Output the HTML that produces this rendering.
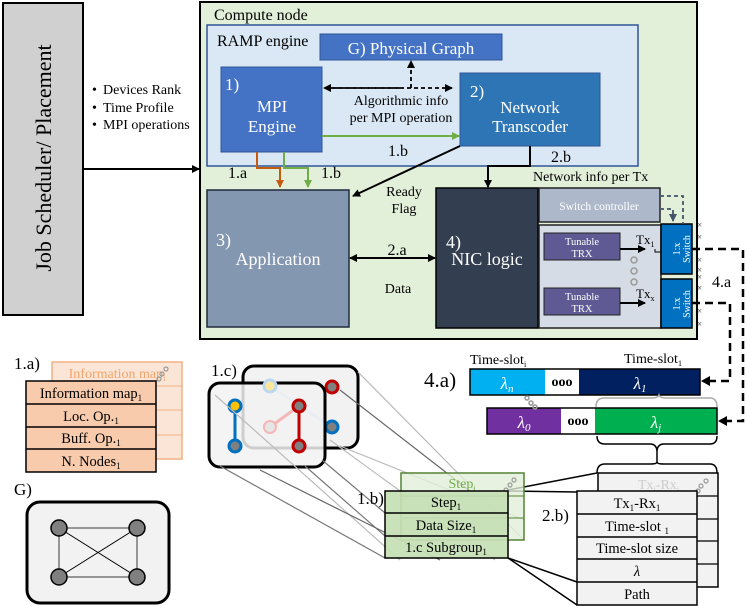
<!DOCTYPE html>
<html><head><meta charset="utf-8"><style>
html,body{margin:0;padding:0;background:#fff}
svg{display:block;font-family:"Liberation Serif",serif}
</style></head><body>
<svg width="747" height="606" viewBox="0 0 747 606" xmlns="http://www.w3.org/2000/svg">
<defs>
<marker id="ak" markerWidth="8" markerHeight="8" refX="7" refY="4" orient="auto" markerUnits="userSpaceOnUse"><path d="M0,0 L8,4 L0,8 z" fill="#000"/></marker>
<marker id="ao" markerWidth="8" markerHeight="8" refX="7" refY="4" orient="auto" markerUnits="userSpaceOnUse"><path d="M0,0 L8,4 L0,8 z" fill="#c55a11"/></marker>
<marker id="ag" markerWidth="8" markerHeight="8" refX="7" refY="4" orient="auto" markerUnits="userSpaceOnUse"><path d="M0,0 L8,4 L0,8 z" fill="#70ad47"/></marker>
<marker id="ad" markerWidth="8" markerHeight="8" refX="7" refY="4" orient="auto" markerUnits="userSpaceOnUse"><path d="M0,0 L8,4 L0,8 z" fill="#44546a"/></marker>
</defs>

<!-- Job scheduler -->
<rect x="3" y="3" width="80" height="312" fill="#d0d0d0" stroke="#000" stroke-width="2"/>
<text transform="translate(51,158) rotate(-90)" text-anchor="middle" font-size="22">Job Scheduler/ Placement</text>
<g font-size="14"><text x="92" y="94">•</text><text x="103" y="94">Devices Rank</text>
<text x="92" y="112">•</text><text x="103" y="112">Time Profile</text>
<text x="92" y="129">•</text><text x="103" y="129">MPI operations</text></g>
<line x1="83" y1="169" x2="199" y2="169" stroke="#000" stroke-width="2" marker-end="url(#ak)"/>

<!-- Compute node -->
<rect x="200" y="2" width="497" height="337" fill="#e2efd9" stroke="#000" stroke-width="2"/>
<text x="214" y="20" font-size="16">Compute node</text>
<rect x="207" y="25" width="431" height="141" fill="#dae8f5" stroke="#2f5597" stroke-width="1.5"/>
<text x="217" y="46" font-size="16">RAMP engine</text>
<rect x="320" y="34" width="182" height="26" fill="#4472c4" stroke="#2f5597"/>
<text x="411" y="54" font-size="17" fill="#fff" text-anchor="middle">G) Physical Graph</text>
<rect x="221" y="67" width="101" height="85" fill="#4472c4" stroke="#2f5597"/>
<text x="225" y="90" font-size="17" fill="#fff">1)</text>
<text x="272" y="112" font-size="17" fill="#fff" text-anchor="middle">MPI</text>
<text x="272" y="132" font-size="17" fill="#fff" text-anchor="middle">Engine</text>
<rect x="460" y="73" width="140" height="73" fill="#2e75b6" stroke="#2f5597"/>
<text x="470" y="97" font-size="17" fill="#fff">2)</text>
<text x="530" y="113" font-size="17" fill="#fff" text-anchor="middle">Network</text>
<text x="530" y="132" font-size="17" fill="#fff" text-anchor="middle">Transcoder</text>
<line x1="330" y1="88" x2="452" y2="88" stroke="#000" stroke-width="1.8" stroke-dasharray="4,3" marker-end="url(#ak)"/>
<line x1="400" y1="88" x2="324" y2="88" stroke="#000" stroke-width="1.8" stroke-dasharray="4,3" marker-end="url(#ak)"/>
<line x1="411" y1="88" x2="411" y2="61" stroke="#000" stroke-width="1.8" stroke-dasharray="4,3" marker-end="url(#ak)"/>
<text x="401" y="105" font-size="14" text-anchor="middle">Algorithmic info</text>
<text x="401" y="122" font-size="14" text-anchor="middle">per MPI operation</text>
<line x1="322" y1="136" x2="459" y2="136" stroke="#70ad47" stroke-width="2" marker-end="url(#ag)"/>
<text x="398" y="156" font-size="16" text-anchor="middle">1.b</text>
<polyline points="257,152 257,168 280,168 280,187" fill="none" stroke="#c55a11" stroke-width="2" marker-end="url(#ao)"/>
<polyline points="284,152 284,168 308,168 308,187" fill="none" stroke="#70ad47" stroke-width="2" marker-end="url(#ag)"/>
<text x="228" y="178" font-size="16">1.a</text>
<text x="321" y="178" font-size="16">1.b</text>

<rect x="207" y="190" width="142" height="137" fill="#8497b0" stroke="#1f2a3a" stroke-width="1.5"/>
<text x="216" y="246" font-size="18" fill="#fff">3)</text>
<text x="278" y="265" font-size="18" fill="#fff" text-anchor="middle">Application</text>
<line x1="460" y1="146" x2="353" y2="196" stroke="#000" stroke-width="2" marker-end="url(#ak)"/>
<text x="404" y="196" font-size="14" text-anchor="middle">Ready</text>
<text x="404" y="213" font-size="14" text-anchor="middle">Flag</text>
<polyline points="530,146 530,166 488,166 488,187" fill="none" stroke="#000" stroke-width="2" marker-end="url(#ak)"/>
<text x="551" y="162" font-size="16">2.b</text>
<text x="533" y="181" font-size="14">Network info per Tx</text>

<rect x="436" y="188" width="102" height="140" fill="#333f50" stroke="#000" stroke-width="1.5"/>
<text x="446" y="248" font-size="18" fill="#fff">4)</text>
<text x="487" y="265" font-size="18" fill="#fff" text-anchor="middle">NIC logic</text>
<line x1="400" y1="258" x2="435" y2="258" stroke="#000" stroke-width="2" marker-end="url(#ak)"/>
<line x1="400" y1="258" x2="350" y2="258" stroke="#000" stroke-width="2" marker-end="url(#ak)"/>
<text x="397" y="255" font-size="16" text-anchor="middle">2.a</text>
<text x="398" y="293" font-size="14" text-anchor="middle">Data</text>

<rect x="539" y="188" width="121" height="34" fill="#adb9ca" stroke="#222" stroke-width="1.5"/>
<text x="599" y="210" font-size="11.5" fill="#fff" text-anchor="middle">Switch controller</text>
<rect x="539" y="225" width="122" height="103" fill="#d6dce5" stroke="#222" stroke-width="1.5"/>
<rect x="544" y="233" width="76" height="27" fill="#5f5a93" stroke="#222"/>
<text x="582" y="245" font-size="10.5" fill="#fff" text-anchor="middle">Tunable</text>
<text x="582" y="257" font-size="10.5" fill="#fff" text-anchor="middle">TRX</text>
<rect x="544" y="288" width="76" height="27" fill="#5f5a93" stroke="#222"/>
<text x="582" y="300" font-size="10.5" fill="#fff" text-anchor="middle">Tunable</text>
<text x="582" y="312" font-size="10.5" fill="#fff" text-anchor="middle">TRX</text>
<line x1="620" y1="249" x2="645" y2="249" stroke="#000" stroke-width="2" marker-end="url(#ak)"/>
<line x1="620" y1="303" x2="645" y2="303" stroke="#000" stroke-width="2" marker-end="url(#ak)"/>
<polyline points="655,249 655,252 661,252" fill="none" stroke="#000"/>
<text x="636" y="244" font-size="13">Tx<tspan font-size="8" dy="3">1</tspan></text>
<text x="636" y="298" font-size="13">Tx<tspan font-size="8" dy="3">x</tspan></text>
<g fill="none" stroke="#999" stroke-width="1.5"><circle cx="634" cy="260" r="3"/><circle cx="634" cy="271" r="3"/><circle cx="634" cy="282" r="3"/></g>
<rect x="661" y="224" width="31" height="50" fill="#0070c0" stroke="#000" stroke-width="1.5"/>
<rect x="661" y="279" width="31" height="49" fill="#0070c0" stroke="#000" stroke-width="1.5"/>
<text transform="translate(680,249) rotate(-90)" font-size="10" fill="#fff" text-anchor="middle">1:x</text>
<text transform="translate(690,249) rotate(-90)" font-size="10" fill="#fff" text-anchor="middle">Switch</text>
<text transform="translate(680,304) rotate(-90)" font-size="10" fill="#fff" text-anchor="middle">1:x</text>
<text transform="translate(690,304) rotate(-90)" font-size="10" fill="#fff" text-anchor="middle">Switch</text>
<polyline points="660,196 683,196 683,224" fill="none" stroke="#44546a" stroke-width="1.8" stroke-dasharray="4,3"/>
<polyline points="660,209 673,209 673,221" fill="none" stroke="#44546a" stroke-width="1.8" stroke-dasharray="4,3" marker-end="url(#ad)"/>
<g font-size="9" fill="#333"><text x="697" y="228">×</text><text x="697" y="240">×</text><text x="697" y="263">×</text><text x="697" y="273">×</text><text x="697" y="280">×</text><text x="697" y="291">×</text><text x="697" y="314">×</text><text x="697" y="327">×</text></g>
<text x="712" y="287" font-size="16">4.a</text>

<!-- 4.a dashed -->
<polyline points="692,249 743,249 743,421 726,421" fill="none" stroke="#000" stroke-width="2.5" stroke-dasharray="8,5"/>
<path d="M718,421 L727,416 L727,426 z" fill="#000"/>
<polyline points="692,303 730,303 730,381 709,381" fill="none" stroke="#000" stroke-width="2.5" stroke-dasharray="8,5"/>
<path d="M701,381 L710,376 L710,386 z" fill="#000"/>

<!-- 4.a bars -->
<text x="424" y="387" font-size="21">4.a)</text>
<text x="470" y="364" font-size="14">Time-slot<tspan font-size="8" dy="3">i</tspan></text>
<text x="624" y="363" font-size="14">Time-slot<tspan font-size="8" dy="3">1</tspan></text>
<rect x="470" y="369" width="75" height="26" fill="#00b0f0"/>
<rect x="545" y="369" width="34" height="26" fill="#fff"/>
<rect x="579" y="369" width="121" height="26" fill="#002060"/>
<rect x="470" y="369" width="230" height="26" fill="none" stroke="#000" stroke-width="1.5"/>
<text x="507" y="389" font-size="17" font-style="italic" fill="#fff" text-anchor="middle">λ<tspan font-size="11" dy="3">n</tspan></text>
<text x="562" y="386" font-size="14" font-weight="bold" text-anchor="middle">ooo</text>
<text x="640" y="389" font-size="17" font-style="italic" fill="#fff" text-anchor="middle">λ<tspan font-size="11" dy="3">1</tspan></text>
<rect x="487" y="408" width="74" height="26" fill="#7030a0"/>
<rect x="561" y="408" width="34" height="26" fill="#fff"/>
<rect x="595" y="408" width="122" height="26" fill="#00b050"/>
<rect x="487" y="408" width="230" height="26" fill="none" stroke="#000" stroke-width="1.5"/>
<text x="524" y="428" font-size="17" font-style="italic" fill="#fff" text-anchor="middle">λ<tspan font-size="11" dy="3">0</tspan></text>
<text x="578" y="425" font-size="14" font-weight="bold" text-anchor="middle">ooo</text>
<text x="656" y="428" font-size="17" font-style="italic" fill="#fff" text-anchor="middle">λ<tspan font-size="11" dy="3">j</tspan></text>
<g fill="none" stroke="#999" stroke-width="1.5"><circle cx="527" cy="398" r="2"/><circle cx="531" cy="403" r="2"/><circle cx="535" cy="407" r="2"/></g>
<path d="M596,407 Q596,398 604,398 L652,398 Q658,398 659,395 Q660,398 666,398 L710,398 Q717,398 717,407" fill="none" stroke="#aaa" stroke-width="1.5"/>
<path d="M597,436 Q597,444 605,444 L650,444 Q657,444 657,452 L657,462 M657,452 Q657,444 664,444 L710,444 Q717,444 717,436" fill="none" stroke="#000" stroke-width="1.5"/>
<path d="M597,473 Q597,464 605,464 L650,464 Q657,464 657,462 Q657,464 664,464 L710,464 Q717,464 717,473" fill="none" stroke="#000" stroke-width="1.5"/>

<!-- 2.b tables -->
<rect x="598" y="473" width="120" height="114" fill="#f2f2f2" stroke="#000" stroke-width="1.5"/>
<g stroke="#000" stroke-width="1.2"><line x1="598" y1="496" x2="718" y2="496"/><line x1="598" y1="519" x2="718" y2="519"/><line x1="598" y1="541" x2="718" y2="541"/><line x1="598" y1="564" x2="718" y2="564"/></g>
<text x="638" y="489" font-size="14" fill="#ccc">Tx<tspan font-size="8" dy="3">i</tspan><tspan dy="-3">-Rx</tspan><tspan font-size="8" dy="3">i</tspan></text>
<g fill="none" stroke="#999" stroke-width="1.2"><circle cx="706" cy="481" r="2"/><circle cx="701" cy="486" r="2"/><circle cx="698" cy="491" r="2"/></g>
<rect x="577" y="491" width="120" height="114" fill="#f2f2f2" stroke="#000" stroke-width="1.5"/>
<g stroke="#000" stroke-width="1.5"><line x1="577" y1="514" x2="697" y2="514"/><line x1="577" y1="537" x2="697" y2="537"/><line x1="577" y1="559" x2="697" y2="559"/><line x1="577" y1="582" x2="697" y2="582"/></g>
<g font-size="14.5" text-anchor="middle">
<text x="637" y="508">Tx<tspan font-size="9" dy="3">1</tspan><tspan dy="-3">-Rx</tspan><tspan font-size="9" dy="3">1</tspan></text>
<text x="637" y="531">Time-slot <tspan font-size="9" dy="3">1</tspan></text>
<text x="637" y="553">Time-slot size</text>
<text x="637" y="576" font-style="italic">λ</text>
<text x="637" y="599">Path</text></g>
<text x="542" y="521" font-size="17">2.b)</text>

<!-- connector lines 1.b -> 2.b -->
<g stroke="#000" stroke-width="1.5"><line x1="508" y1="490" x2="597" y2="473"/><line x1="508" y1="491" x2="577" y2="492"/><line x1="508" y1="558" x2="577" y2="582"/><line x1="508" y1="558" x2="577" y2="605"/></g>

<!-- 1.c cards -->
<text x="211" y="376" font-size="17">1.c)</text>
<rect x="243" y="366" width="115" height="82" rx="11" fill="#f2f2f2" stroke="#000" stroke-width="3"/>
<line x1="270" y1="386" x2="332" y2="427" stroke="#bdd7ee" stroke-width="3"/>
<circle cx="332" cy="387" r="6" fill="#808080" stroke="#c00000" stroke-width="3"/>
<circle cx="332" cy="427" r="6" fill="#808080" stroke="#0070c0" stroke-width="3"/>
<rect x="209" y="383" width="116" height="84" rx="11" fill="#f2f2f2" fill-opacity="0.85" stroke="#000" stroke-width="3"/>
<circle cx="270" cy="386" r="6" fill="#ffe699" stroke="#bdd7ee" stroke-width="3"/>
<line x1="270" y1="427" x2="299" y2="406" stroke="#f4b6b6" stroke-width="3"/>
<circle cx="270" cy="427" r="6" fill="#e7e6e6" stroke="#f4b6b6" stroke-width="2"/>
<line x1="235" y1="406" x2="235" y2="446" stroke="#0070c0" stroke-width="3"/>
<line x1="299" y1="406" x2="299" y2="446" stroke="#c00000" stroke-width="3"/>
<circle cx="235" cy="406" r="6" fill="#ffc000" stroke="#0070c0" stroke-width="3"/>
<circle cx="235" cy="446" r="6" fill="#808080" stroke="#0070c0" stroke-width="3"/>
<circle cx="299" cy="406" r="6" fill="#808080" stroke="#c00000" stroke-width="3"/>
<circle cx="299" cy="446" r="6" fill="#808080" stroke="#c00000" stroke-width="3"/>
<g stroke="#777" stroke-width="1.2"><line x1="220" y1="466" x2="385" y2="558"/><line x1="305" y1="466" x2="385" y2="536"/><line x1="322" y1="460" x2="385" y2="513"/></g>
<g stroke="#bbb" stroke-width="1.2"><line x1="358" y1="372" x2="524" y2="540"/><line x1="340" y1="446" x2="524" y2="520"/><line x1="330" y1="440" x2="495" y2="560"/><line x1="215" y1="395" x2="400" y2="560"/></g>
<g stroke="#666" stroke-width="1.2"><line x1="340" y1="390" x2="470" y2="491"/><line x1="260" y1="470" x2="440" y2="560"/></g>

<!-- 1.b tables -->
<text x="357" y="504" font-size="17">1.b)</text>
<rect x="401" y="473" width="123" height="67" fill="#e2efd9" fill-opacity="0.8" stroke="#548235" stroke-width="1.5"/>
<g stroke="#548235"><line x1="401" y1="496" x2="524" y2="496"/><line x1="401" y1="518" x2="524" y2="518"/></g>
<text x="462" y="488" font-size="14" fill="#70ad47" text-anchor="middle">Step<tspan font-size="8" dy="3">i</tspan></text>
<g fill="none" stroke="#999" stroke-width="1.2"><circle cx="514" cy="480" r="2"/><circle cx="510" cy="485" r="2"/><circle cx="506" cy="490" r="2"/></g>
<rect x="385" y="491" width="123" height="67" fill="#c5e0b4" fill-opacity="0.92" stroke="#000" stroke-width="1.5"/>
<g stroke="#000" stroke-width="1.5"><line x1="385" y1="513" x2="508" y2="513"/><line x1="385" y1="536" x2="508" y2="536"/></g>
<g font-size="14.5" text-anchor="middle">
<text x="446" y="507">Step<tspan font-size="9" dy="3">1</tspan></text>
<text x="446" y="530">Data Size<tspan font-size="9" dy="3">1</tspan></text>
<text x="446" y="552">1.c Subgroup<tspan font-size="9" dy="3">1</tspan></text></g>

<!-- 1.a tables -->
<text x="14" y="369" font-size="17">1.a)</text>
<rect x="52" y="362" width="130" height="97" fill="#fbe5d6" stroke="#f4b183" stroke-width="1.5"/>
<g stroke="#f4b183"><line x1="52" y1="386" x2="182" y2="386"/><line x1="52" y1="410" x2="182" y2="410"/><line x1="52" y1="435" x2="182" y2="435"/></g>
<text x="117" y="378" font-size="14" fill="#f4a46a" text-anchor="middle">Information map<tspan font-size="8" dy="3">i</tspan></text>
<g fill="none" stroke="#999" stroke-width="1.2"><circle cx="166" cy="369" r="2"/><circle cx="162" cy="374" r="2"/><circle cx="159" cy="379" r="2"/></g>
<rect x="26" y="381" width="130" height="91" fill="#f8cbad" stroke="#000" stroke-width="1.5"/>
<g stroke="#000" stroke-width="1.5"><line x1="26" y1="404" x2="156" y2="404"/><line x1="26" y1="427" x2="156" y2="427"/><line x1="26" y1="449" x2="156" y2="449"/></g>
<g font-size="14.5" text-anchor="middle">
<text x="91" y="398">Information map<tspan font-size="9" dy="3">1</tspan></text>
<text x="91" y="421">Loc. Op.<tspan font-size="9" dy="3">1</tspan></text>
<text x="91" y="443">Buff. Op.<tspan font-size="9" dy="3">1</tspan></text>
<text x="91" y="466">N. Nodes<tspan font-size="9" dy="3">1</tspan></text></g>

<!-- G) -->
<text x="14" y="495" font-size="17">G)</text>
<rect x="27" y="502" width="142" height="101" rx="13" fill="#f2f2f2" stroke="#000" stroke-width="3"/>
<g stroke="#777" stroke-width="1.5"><line x1="59" y1="528" x2="137" y2="528"/><line x1="59" y1="577" x2="137" y2="577"/><line x1="59" y1="528" x2="59" y2="577"/><line x1="137" y1="528" x2="137" y2="577"/></g>
<g stroke="#000" stroke-width="1"><line x1="59" y1="528" x2="137" y2="577"/><line x1="137" y1="528" x2="59" y2="577"/></g>
<g fill="#808080" stroke="#000" stroke-width="1.5"><circle cx="59" cy="528" r="8"/><circle cx="137" cy="528" r="8"/><circle cx="59" cy="577" r="8"/><circle cx="137" cy="577" r="8"/></g>
</svg>
</body></html>
